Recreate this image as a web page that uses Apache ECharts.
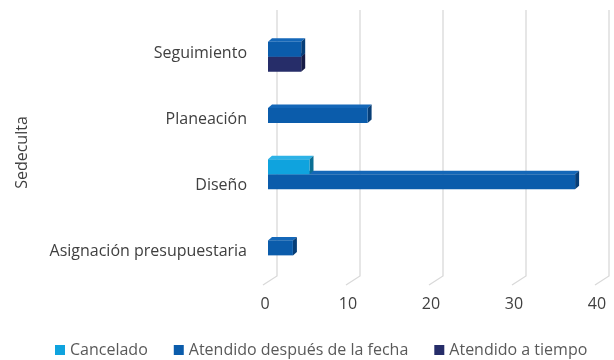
<!DOCTYPE html>
<html>
<head>
<meta charset="utf-8">
<script src="https://cdn.jsdelivr.net/npm/echarts@6/dist/echarts.min.js"></script>
<style>html,body{margin:0;padding:0;background:#fff}#c{width:614px;height:360px}</style>
</head>
<body>
<div id="c"></div>
<script>
const categories = ['Asignación presupuestaria', 'Diseño', 'Planeación', 'Seguimiento'];
const seriesNames = ['Cancelado', 'Atendido después de la fecha', 'Atendido a tiempo'];
const cancelado = [0, 5, 0, 0];
const atendidoDespues = [3, 37, 12, 4];
const atendidoTiempo = [0, 0, 0, 4];
const xTicks = [0, 10, 20, 30, 40];
const axisName = 'Sedeculta';

const FONT = '"Open Sans", "Noto Sans", sans-serif';
const palette = [
  { front: '#0FA3DE', top: '#2DB2E6', side: '#0A6F94' },
  { front: '#0B5CAB', top: '#1467B8', side: '#073E77' },
  { front: '#262D69', top: '#323A7C', side: '#171C46' }
];

function barRender(slot, col) {
  return function (params, api) {
    const v = api.value(0);
    const c = api.value(1);
    if (!v) return null;
    const p0 = api.coord([0, c]);
    const p1 = api.coord([v, c]);
    const h = 15, dx = 4, dy = 3.5;
    const y = p0[1] - 4 - 22.5 + slot * h;
    const x0 = p0[0], x1 = p1[0];
    return {
      type: 'group',
      children: [
        { type: 'polygon', shape: { points: [[x0, y], [x1, y], [x1 + dx, y - dy], [x0 + dx, y - dy]] }, style: { fill: col.top } },
        { type: 'polygon', shape: { points: [[x1, y], [x1 + dx, y - dy], [x1 + dx, y + h - dy], [x1, y + h]] }, style: { fill: col.side } },
        { type: 'rect', shape: { x: x0, y: y, width: x1 - x0, height: h }, style: { fill: col.front } }
      ]
    };
  };
}

function gridRender(params, api) {
  const v = api.value(0);
  const p = api.coord([v, 0]);
  const r = params.coordSys;
  const xb = p[0] + 9;
  return {
    type: 'polyline',
    shape: { points: [[xb, r.y - 10], [xb, r.y + r.height - 9], [p[0] - 5, r.y + r.height]] },
    style: { stroke: '#D9D9D9', lineWidth: 1.3, fill: null }
  };
}

const valueSets = [cancelado, atendidoDespues, atendidoTiempo];
const barSeries = [];
// draw bottom bars first so upper bars cover their top faces
for (let s = 2; s >= 0; s--) {
  barSeries.push({
    type: 'custom',
    name: seriesNames[s],
    renderItem: barRender(s, palette[s]),
    itemStyle: { color: palette[s].front },
    encode: { x: 0, y: 1 },
    data: valueSets[s].map((v, i) => [v, i]),
    z: 3
  });
}

const chart = echarts.init(document.getElementById('c'));
chart.setOption({
  animation: false,
  textStyle: { fontFamily: FONT },
  grid: { left: 268, right: 14, top: 20, height: 265 },
  legend: {
    data: seriesNames,
    left: 55, top: 342, padding: 0,
    icon: 'rect', itemWidth: 10, itemHeight: 10, itemGap: 26,
    textStyle: { color: '#595959', fontSize: 16, fontFamily: FONT }
  },
  xAxis: {
    type: 'value', min: xTicks[0], max: xTicks[xTicks.length - 1], interval: 10,
    axisLine: { show: false }, axisTick: { show: false }, splitLine: { show: false },
    axisLabel: { color: '#404040', fontSize: 16, margin: 11, padding: [0, 6, 0, 0], fontFamily: FONT }
  },
  yAxis: {
    type: 'category', data: categories,
    axisLine: { show: false }, axisTick: { show: false },
    axisLabel: { color: '#404040', fontSize: 16, margin: 21, fontFamily: FONT },
    name: axisName, nameLocation: 'middle', nameRotate: 90, nameGap: 238,
    nameTextStyle: { color: '#404040', fontSize: 16, fontFamily: FONT }
  },
  series: [
    {
      type: 'custom', name: '_grid', renderItem: gridRender, silent: true,
      encode: { x: 0, y: 1 }, data: xTicks.map(v => [v, 0]), z: 1
    }
  ].concat(barSeries)
});
</script>
</body>
</html>
